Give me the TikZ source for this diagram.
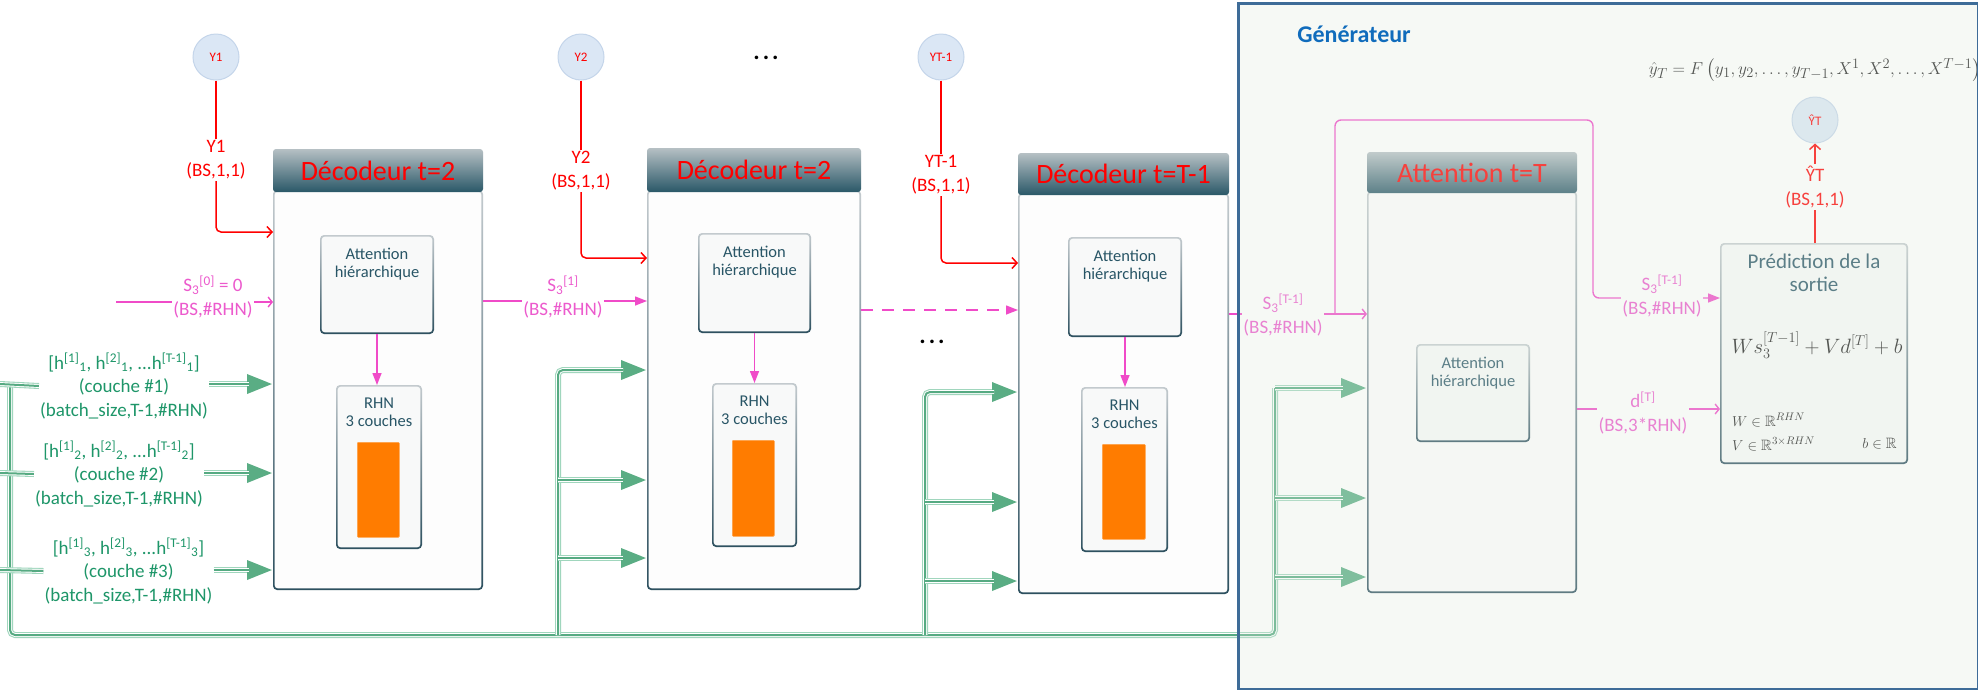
\documentclass[tikz,border=0pt]{standalone}
\usepackage{fontspec}
\usepackage{amsmath,amssymb}
\setmainfont{Carlito}
\usetikzlibrary{arrows.meta,calc}
\definecolor{redC}{RGB}{255,0,0}
\definecolor{pinkC}{RGB}{240,75,200}
\definecolor{pinkT}{RGB}{236,90,205}
\definecolor{gT}{RGB}{30,150,105}
\definecolor{gM}{RGB}{90,173,132}
\definecolor{gL}{RGB}{160,214,189}
\definecolor{gD}{RGB}{86,170,130}
\definecolor{hTop}{RGB}{182,192,196}
\definecolor{hBot}{RGB}{42,88,104}
\definecolor{bTop}{RGB}{195,202,206}
\definecolor{bBot}{RGB}{45,80,95}
\definecolor{boxT}{RGB}{40,85,102}
\definecolor{bodyF}{RGB}{253,253,253}
\definecolor{innerF}{RGB}{248,249,249}
\definecolor{orangeC}{RGB}{255,124,0}
\definecolor{circF}{RGB}{219,231,245}
\definecolor{circD}{RGB}{196,213,234}
\definecolor{genF}{RGB}{225,235,222}
\definecolor{genB}{RGB}{62,108,152}
\definecolor{genT}{RGB}{16,108,188}
\definecolor{mathC}{RGB}{30,30,30}
\tikzset{
  gbox/.style={rounded corners=4pt, top color=bTop, bottom color=bBot, inner sep=0pt, outer sep=0pt, anchor=north west,
    path picture={\fill[#1, rounded corners=3pt] ([shift={(1.7pt,-1.7pt)}]path picture bounding box.north west) rectangle ([shift={(-1.7pt,1.7pt)}]path picture bounding box.south east);}},
  hdr/.style={rounded corners=3pt, top color=hTop, bottom color=hBot, inner sep=0pt, outer sep=0pt, anchor=north west, text=redC, font=\fontsize{28}{30}\selectfont},
  orect/.style={fill=orangeC, draw=orangeC!70!white, line width=0.6pt, rounded corners=1pt, inner sep=0pt, anchor=north west},
  btxt/.style={anchor=north, align=center, text=boxT, inner sep=2pt, font=\fontsize{16.5}{18}\selectfont},
  circ/.style={circle, fill=circF, draw=circD, line width=1pt, minimum size=46pt, inner sep=0pt, text=redC, font=\fontsize{13}{14}\selectfont},
  lab/.style={fill=white, inner sep=1.5pt, align=center, font=\fontsize{19}{24}\selectfont},
  glab/.style={fill=white, inner sep=1pt, align=center, text=gT, font=\fontsize{19}{23.5}\selectfont},
  redline/.style={draw=redC, line width=1.5pt},
  redarr/.style={redline, rounded corners=5pt, -{Straight Barb[length=5pt,width=11pt]}},
  pinkopen/.style={draw=pinkC, line width=1.4pt, rounded corners=6pt, -{Straight Barb[length=4pt,width=10pt]}},
  pinkfill/.style={draw=pinkC, line width=1.4pt, rounded corners=6pt, -{Triangle[length=12pt,width=9pt]}},
  bus/.style={draw=gL, line width=6pt, rounded corners=5pt,
    postaction={draw=white, line width=3.8pt, arrows=-, shorten >=#1},
    postaction={draw=gD, line width=2pt, arrows=-, shorten >=#1}},
  bus/.default=0pt,
  busarr/.style={bus=24pt, -{Triangle[length=26pt,width=18pt,color=gM]}},
}
\begin{document}
\begin{tikzpicture}[x=1pt,y=-1pt]
\fill[white] (0,0) rectangle (1978,689);
\useasboundingbox (0,0) rectangle (1978,689);

% ---------- decoder bodies and headers ----------
\node[gbox=bodyF, minimum width=210pt, minimum height=400pt] (d1) at (273,190) {};
\node[hdr, minimum width=210pt, minimum height=43pt] (d1h) at (273,149) {Décodeur t=2};
\node[gbox=bodyF, minimum width=214pt, minimum height=400pt] (d2) at (647,190) {};
\node[hdr, minimum width=214pt, minimum height=44pt] (d2h) at (647,148) {Décodeur t=2};
\node[gbox=bodyF, minimum width=211pt, minimum height=401pt] (d3) at (1018,193) {};
\node[hdr, minimum width=211pt, minimum height=42pt] (d3h) at (1018,153) {Décodeur t=T-1};
\node[gbox=bodyF, minimum width=210pt, minimum height=402pt] (aT) at (1367,191) {};
\node[hdr, minimum width=210pt, minimum height=41pt] (aTh) at (1367,152) {Attention t=T};

% ---------- inner boxes ----------
\node[gbox=innerF, minimum width=114pt, minimum height=99pt] (a1) at (320,235) {};
\node[btxt] (a1t) at ($(a1.north)+(0,11)$) {Attention\\hiérarchique};
\node[gbox=innerF, minimum width=86pt, minimum height=164pt] (r1) at (336,385) {};
\node[btxt] (r1t) at ($(r1.north)+(0,11)$) {RHN\\3 couches};
\node[orect, minimum width=42pt, minimum height=95pt] (o1) at (357,442) {};

\node[gbox=innerF, minimum width=113pt, minimum height=100pt] (a2) at (698,233) {};
\node[btxt] (a2t) at ($(a2.north)+(0,11)$) {Attention\\hiérarchique};
\node[gbox=innerF, minimum width=85pt, minimum height=164pt] (r2) at (712,383) {};
\node[btxt] (r2t) at ($(r2.north)+(0,11)$) {RHN\\3 couches};
\node[orect, minimum width=42pt, minimum height=96pt] (o2) at (732,440) {};

\node[gbox=innerF, minimum width=114pt, minimum height=100pt] (a3) at (1068,237) {};
\node[btxt] (a3t) at ($(a3.north)+(0,11)$) {Attention\\hiérarchique};
\node[gbox=innerF, minimum width=87pt, minimum height=165pt] (r3) at (1081,387) {};
\node[btxt] (r3t) at ($(r3.north)+(0,11)$) {RHN\\3 couches};
\node[orect, minimum width=43pt, minimum height=95pt] (o3) at (1102,444) {};

\node[gbox=innerF, minimum width=114pt, minimum height=98pt] (a4) at (1416,344) {};
\node[btxt] (a4t) at ($(a4.north)+(0,11)$) {Attention\\hiérarchique};

\node[gbox=innerF, minimum width=188pt, minimum height=221pt] (P) at (1720,243) {};
\node[align=center, text=boxT, inner sep=0pt, font=\fontsize{21}{23}\selectfont] (Pt) at ($(P.north)+(0,30)$) {Prédiction de la\\sortie};
\node[text=mathC, inner sep=0pt, font=\fontsize{21}{23}\selectfont] (Pf) at (1817,345) {$Ws_3^{[T-1]}+Vd^{[T]}+b$};
\node[anchor=west, text=mathC, inner sep=0pt, font=\fontsize{15}{16}\selectfont] (Pw) at (1732,420) {$W\in\mathbb{R}^{RHN}$};
\node[anchor=west, text=mathC, inner sep=0pt, font=\fontsize{15}{16}\selectfont] (Pv) at (1732,444) {$V\in\mathbb{R}^{3\times RHN}$};
\node[anchor=east, text=mathC, inner sep=0pt, font=\fontsize{15}{16}\selectfont] (Pb) at (1897,444) {$b\in\mathbb{R}$};

% attention -> RHN
\draw[pinkfill] (a1.south) -- (a1.south |- r1.north);
\draw[pinkfill] (a2.south) -- (a2.south |- r2.north);
\draw[pinkfill] (a3.south) -- (a3.south |- r3.north);

% ---------- Y circles and red arrows ----------
\node[circ] (y1) at (216,57) {Y1};
\node[circ] (y2) at (581,57) {Y2};
\node[circ] (y3) at (941,57) {YT-1};
\node[circ] (yh) at (1815,120) {ŶT};

\node[lab, text=redC] (y1l) at (216,160) {Y1\\(BS,1,1)};
\node[lab, text=redC] (y2l) at (581,171) {Y2\\(BS,1,1)};
\node[lab, text=redC] (y3l) at (941,175) {YT-1\\(BS,1,1)};
\node[lab, text=redC] (yhl) at (1815,187) {ŶT\\(BS,1,1)};

\draw[redline] (y1) -- (y1l);
\draw[redarr] (y1l) |- ($(d1.north west)+(0,42)$);
\draw[redline] (y2) -- (y2l);
\draw[redarr] (y2l) |- ($(d2.north west)+(0,68)$);
\draw[redline] (y3) -- (y3l);
\draw[redarr] (y3l) |- ($(d3.north west)+(0,70)$);
\draw[redline] (P.north -| yhl) -- (yhl);
\draw[redarr] (yhl) -- (yh);

% ---------- pink state arrows ----------
\coordinate (s0) at (116,302);
\draw[pinkopen] (s0) -- (s0 -| d1.west);
\node[lab, text=pinkT] (s0l) at (213,297) {S\textsubscript{3}\textsuperscript{[0]} = 0\\(BS,\#RHN)};

\draw[pinkfill] ($(d1.north east)+(0,111)$) -- ($(d2.north west)+(0,111)$);
\node[lab, text=pinkT] (s1l) at (563,297) {S\textsubscript{3}\textsuperscript{[1]}\\(BS,\#RHN)};

\draw[pinkfill, dashed, dash pattern=on 12pt off 9pt] ($(d2.north east)+(0,120)$) -- ($(d3.north west)+(0,117)$);
\node[font=\bfseries\fontsize{24}{24}\selectfont, inner sep=0pt] (dots1) at (766,58) {.\hspace{3pt}.\hspace{3pt}.};
\node[font=\bfseries\fontsize{24}{24}\selectfont, inner sep=0pt] (dots2) at (932,342) {.\hspace{3pt}.\hspace{3pt}.};

\draw[pinkopen] ($(d3.north east)+(0,121)$) -- ($(aT.north west)+(0,123)$);
\coordinate (brA) at (1335,314);
\draw[pinkfill] (brA) |- (1593,120) |- ($(P.north west)+(0,55)$);
\node[lab, text=pinkT] (sTl) at (1283,315) {S\textsubscript{3}\textsuperscript{[T-1]}\\(BS,\#RHN)};
\node[lab, text=pinkT] (sPl) at (1662,296) {S\textsubscript{3}\textsuperscript{[T-1]}\\(BS,\#RHN)};

\draw[pinkopen] ($(aT.north east)+(0,218)$) -- ($(P.north west)+(0,166)$);
\node[lab, text=pinkT] (dTl) at (1643,413) {d\textsuperscript{[T]}\\(BS,3*RHN)};

% ---------- green encoder-state buses ----------
\node[glab] (h1L) at (124,386) {[h\textsuperscript{[1]}\textsubscript{1}, h\textsuperscript{[2]}\textsubscript{1}, ...h\textsuperscript{[T-1]}\textsubscript{1}]\\(couche \#1)\\(batch\_size,T-1,\#RHN)};
\node[glab] (h2L) at (119,474) {[h\textsuperscript{[1]}\textsubscript{2}, h\textsuperscript{[2]}\textsubscript{2}, ...h\textsuperscript{[T-1]}\textsubscript{2}]\\(couche \#2)\\(batch\_size,T-1,\#RHN)};
\node[glab] (h3L) at (128.5,571) {[h\textsuperscript{[1]}\textsubscript{3}, h\textsuperscript{[2]}\textsubscript{3}, ...h\textsuperscript{[T-1]}\textsubscript{3}]\\(couche \#3)\\(batch\_size,T-1,\#RHN)};

\coordinate (e1) at (0,384);
\coordinate (e2) at (0,473);
\coordinate (e3) at (0,570);
\coordinate (j1) at (10,384);
\coordinate (b2) at (558,635);
\coordinate (b3) at (925,635);
\coordinate (b4) at (1275,635);

\draw[bus] (j1) |- (b4) -- (1275,388);
\draw[bus] (e1) -- (h1L.west);
\draw[bus] (e2) -- (h2L.west);
\draw[bus] (e3) -- (h3L.west);
\draw[busarr] (h1L.east |- e1) -- (d1.west |- e1);
\draw[busarr] (h2L.east |- e2) -- (d1.west |- e2);
\draw[busarr] (h3L.east |- e3) -- (d1.west |- e3);

\draw[busarr] (b2) -- (558,370) -- ($(d2.north west)+(0,180)$);
\draw[busarr] (558,480) -- ($(d2.north west)+(0,290)$);
\draw[busarr] (558,558) -- ($(d2.north west)+(0,368)$);

\draw[busarr] (b3) -- (925,392) -- ($(d3.north west)+(0,199)$);
\draw[busarr] (925,502) -- ($(d3.north west)+(0,309)$);
\draw[busarr] (925,581) -- ($(d3.north west)+(0,388)$);

\draw[busarr] (1275,388) -- ($(aT.north west)+(0,197)$);
\draw[busarr] (1275,498) -- ($(aT.north west)+(0,307)$);
\draw[busarr] (1275,577) -- ($(aT.north west)+(0,386)$);

% ---------- top formula ----------
\node[text=mathC, inner sep=0pt, font=\fontsize{19}{21}\selectfont] (F) at (1815,70) {$\hat{y}_T = F\left(y_1,y_2,\ldots,y_{T-1},X^1,X^2,\ldots,X^{T-1}\right)$};

% ---------- generator overlay ----------
\node[draw=genB, line width=2.5pt, fill=genF, fill opacity=0.28, draw opacity=1, minimum width=740pt, minimum height=686pt, anchor=north west, inner sep=0pt] (gen) at (1237,2) {};
\node[font=\bfseries\fontsize{24}{26}\selectfont, text=genT] (gt) at (1354,34) {Générateur};
\end{tikzpicture}
\end{document}
